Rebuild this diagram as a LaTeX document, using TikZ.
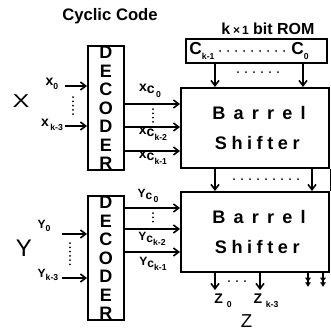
\documentclass[tikz,border=0pt]{standalone}
\usepackage{fontspec}
\setmainfont{Liberation Sans}
\usetikzlibrary{arrows.meta}

\newcommand{\sub}[1]{\raisebox{-0.55ex}{\fontsize{6.5}{7}\selectfont #1}}
\newcommand{\csub}[1]{\raisebox{-0.3ex}{c\sub{#1}}}

\tikzset{
  box/.style={draw, line width=1.4pt, inner sep=0pt},
  bus/.style={line width=1.3pt, -{Straight Barb[length=4pt,width=6pt,line width=1.2pt]}},
  dblbus/.style={line width=1.3pt, -{Latex[length=3.5pt,width=5pt]Latex[length=3.5pt,width=5pt]}},
  hdots/.style={line width=1.5pt, line cap=round, dash pattern=on 0pt off 6pt},
  vdots/.style={line width=1.5pt, line cap=round, dash pattern=on 0pt off 3.2pt},
  lab/.style={inner sep=0pt, font=\bfseries\fontsize{10.5}{12}\selectfont},
  big/.style={inner sep=0pt, font=\fontsize{14}{16}\selectfont},
  decoder/.style={box, minimum width=27pt, minimum height=93pt, align=center,
    font=\bfseries\fontsize{13.5}{13.9}\selectfont},
  shifter/.style={box, minimum width=111pt, minimum height=60pt, align=center,
    font=\bfseries\fontsize{13.6}{22.5}\selectfont},
}

\begin{document}
\begin{tikzpicture}[x=0.75pt, y=-0.75pt]
    \useasboundingbox (0,0) rectangle (330,333);

    % 标题
    \node[lab, font=\bfseries\fontsize{12.5}{14}\selectfont] (title) at (110,16) {Cyclic Code};
    \node[lab, font=\bfseries\fontsize{12}{13}\selectfont] (romlab) at (268,29) {k\,{\fontsize{9}{9}\selectfont×\,1} bit ROM};

    % ROM
    \node[box, minimum width=105.75pt, minimum height=18pt] (rom) at (256.5,51) {};
    \node[lab, font=\bfseries\fontsize{13}{14}\selectfont] (ck) at (202,51) {C\sub{k-1}};
    \node[lab, font=\bfseries\fontsize{13}{14}\selectfont] (c0) at (300,51) {C\sub{0}};
    \draw[hdots] ([xshift=4pt]ck.east) -- ([xshift=-1pt]c0.west);

    % 译码器
    \node[decoder] (decX) at (106,108) {D\\E\\C\\O\\D\\E\\R};
    \node[decoder] (decY) at (106,258) {D\\E\\C\\O\\D\\E\\R};

    % 桶形移位器
    \node[shifter] (bsX) at (255,128) {{\addfontfeature{LetterSpace=45}\kern0.45em Barrel}\\{\addfontfeature{LetterSpace=25}\kern0.25em Shifter}};
    \node[shifter] (bsY) at (255,232) {{\addfontfeature{LetterSpace=45}\kern0.45em Barrel}\\{\addfontfeature{LetterSpace=25}\kern0.25em Shifter}};

    % 输入 X
    \node[big, xscale=1.35] (X) at (21,101) {X};
    \node[lab] (x0) at (52,84) {x\sub{0}};
    \node[lab] (xk) at (52,125) {x\sub{\,k-3}};
    \draw[bus] (65,86) -- (decX.west |- 0,86);
    \draw[bus] (65,126) -- (decX.west |- 0,126);
    \draw[vdots] (73,97) -- (73,118);

    % 输入 Y
    \node[big, font=\fontsize{18}{20}\selectfont] (Y) at (24,248) {Y};
    \node[lab, font=\bfseries\fontsize{9}{10}\selectfont] (y0) at (44,226) {Y\sub{0}};
    \node[lab, font=\bfseries\fontsize{9}{10}\selectfont] (yk) at (48,275) {Y\sub{k-3}};
    \draw[bus] (62,234) -- (decY.west |- 0,234);
    \draw[bus] (62,278) -- (decY.west |- 0,278);
    \draw[vdots] (70,243) -- (70,266);

    % 译码器输出 X
    \draw[bus] (decX.east |- 0,104) -- (bsX.west |- 0,104);
    \draw[bus] (decX.east |- 0,127) -- (bsX.west |- 0,127);
    \draw[bus] (decX.east |- 0,151) -- (bsX.west |- 0,151);
    \draw[vdots] (153,109) -- (153,122);
    \node[lab] (xc0) at (150,91) {x\csub{\,0}};
    \node[lab] (xck2) at (153,134) {x\csub{k-2}};
    \node[lab] (xck1) at (153,158) {x\csub{k-1}};

    % 译码器输出 Y
    \draw[bus] (decY.east |- 0,208) -- (bsY.west |- 0,208);
    \draw[bus] (decY.east |- 0,229) -- (bsY.west |- 0,229);
    \draw[bus] (decY.east |- 0,252) -- (bsY.west |- 0,252);
    \draw[vdots] (153,213) -- (153,225);
    \node[lab, font=\bfseries\fontsize{9}{10}\selectfont] (yc0) at (148,196) {Y\csub{\,0}};
    \node[lab, font=\bfseries\fontsize{9}{10}\selectfont] (yck2) at (152,239) {Y\csub{k-2}};
    \node[lab, font=\bfseries\fontsize{9}{10}\selectfont] (yck1) at (153,264) {Y\csub{k-1}};

    % ROM 到移位器
    \draw[bus] (rom.south -| 215,0) -- (bsX.north -| 215,0);
    \draw[bus] (rom.south -| 303,0) -- (bsX.north -| 303,0);
    \draw[hdots] (238,72) -- (282,72);

    % 两个移位器之间
    \draw[bus] (bsX.south -| 215,0) -- (bsY.north -| 215,0);
    \draw[bus] (bsX.south -| 312,0) -- (bsY.north -| 312,0);
    \draw (bsX.south east) -- (bsY.north east);
    \draw[hdots] (234,179) -- (298,179);

    % 输出 Z
    \coordinate (zA) at (215,290);
    \coordinate (zB) at (260,290);
    \draw[bus] (bsY.south -| zA) -- (zA);
    \draw[bus] (bsY.south -| zB) -- (zB);
    \draw[hdots] (229,281) -- (250,281);
    \node[lab] (z0) at (223,301) {Z\,\sub{\,0}};
    \node[lab] (zk) at (266,301) {Z\,\sub{\,k-3}};
    \node[big] (Z) at (246.5,321) {Z};

    % 右下角
    \coordinate (oA) at (308,287);
    \coordinate (oB) at (323,287);
    \draw[dblbus] (bsY.south -| oA) -- (oA);
    \draw[dblbus] (bsY.south -| oB) -- (oB);
\end{tikzpicture}
\end{document}
